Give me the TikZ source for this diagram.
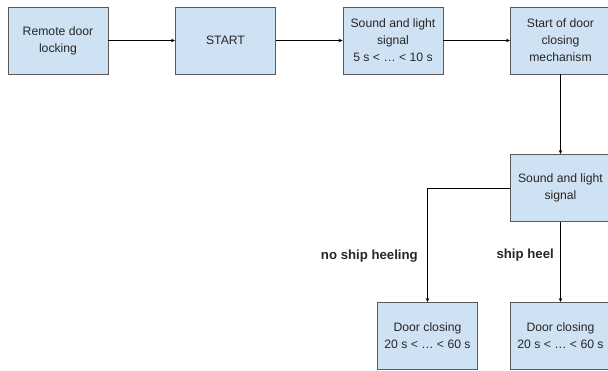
\documentclass[tikz,border=0pt]{standalone}
\usepackage{fontspec}
\setmainfont{Liberation Sans}
\usetikzlibrary{positioning, arrows.meta}
\definecolor{boxblue}{HTML}{CFE2F3}
\definecolor{boxline}{HTML}{595959}
\definecolor{ink}{HTML}{262626}
\tikzset{
    >={Stealth[length=4pt, width=3.5pt]}, % Small filled arrowheads
    node distance=167.5pt, % Distance between box centres
    block/.style={draw=boxline, fill=boxblue, line width=0.9pt, text=ink,
        minimum width=100pt, minimum height=67pt, align=center,
        font=\fontsize{12.2}{17}\selectfont}, % Styling for boxes
    tag/.style={font=\bfseries\fontsize{13.2}{15}\selectfont, text=ink}, % Branch labels
}

\begin{document}
\begin{tikzpicture}[on grid, line width=0.8pt]
    \useasboundingbox (0pt,0pt) rectangle (608pt,-370pt);

    \node[block] (remote) at (58pt,-40.5pt) {Remote door\\locking};
    \node[block] (start) [right=of remote] {START};
    \node[block] (signal) [right=of start] {Sound and light\\signal\\5 s < \ldots{} < 10 s};
    \node[block] (closing) [right=of signal] {Start of door\\closing\\mechanism};
    \node[block] (alarm) [below=147.5pt of closing] {Sound and light\\signal};
    \node[block] (heel) [below=148pt of alarm] {Door closing\\20 s < \ldots{} < 60 s};
    \node[block] (noheel) [left=133pt of heel] {Door closing\\20 s < \ldots{} < 60 s};

    \path[->]
        (remote) edge (start)
        (start) edge (signal)
        (signal) edge (closing)
        (closing) edge (alarm)
        (alarm) edge node[tag, left=3pt, pos=0.41, anchor=east] {ship heel} (heel);
    \draw[->] (alarm.west) -| node[tag, pos=0.8, left=6pt, anchor=east] {no ship heeling} (noheel.north);
\end{tikzpicture}
\end{document}
